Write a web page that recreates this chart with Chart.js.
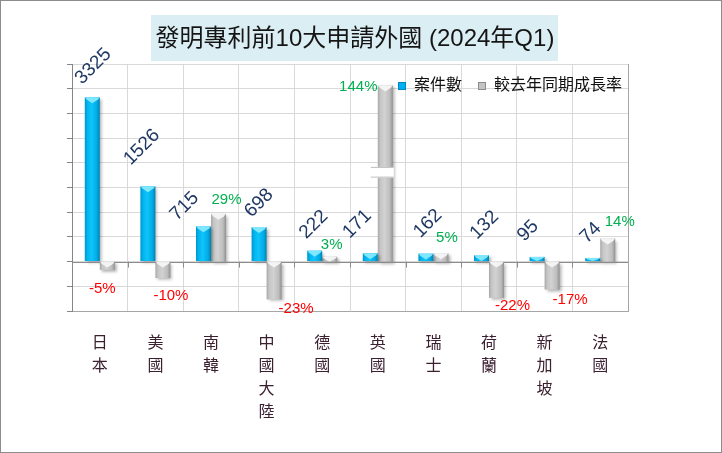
<!DOCTYPE html>
<html>
<head>
<meta charset="utf-8">
<script src="https://cdn.jsdelivr.net/npm/chart.js@4.4.1/dist/chart.umd.min.js"></script>
<style>
  html, body { margin: 0; padding: 0; background: #fff; }
</style>
</head>
<body>
<canvas id="myChart" width="722" height="453"></canvas>
<script>
"use strict";

// 發明專利前10大申請外國 (2024年Q1)
const countries = ["日本", "美國", "南韓", "中國大陸", "德國", "英國", "瑞士", "荷蘭", "新加坡", "法國"];
const cases = [3325, 1526, 715, 698, 222, 171, 162, 132, 95, 74];
const growth = [-5, -10, 29, -23, 3, 144, 5, -22, -17, 14];

// left axis (件數) and hidden right axis (成長率 %), zero lines aligned
const caseAxis = { min: -1000, max: 4000, step: 500 };
const growthAxis = { min: -30, max: 120 };
// 144% is drawn cut short with a break mark, like the original
const breakCap = 107;
const breakBand = [51, 57.5];

// label nudges (px) from the bar end, roughly as placed in the original
const caseLabelNudge = [[1, -31], [-6, -39], [-19, -20], [0, -24], [-1, -26], [-13, -29], [2, -30], [3, -30], [-9, -26], [-2, -25]];
const growthLabelNudge = [[-5, 19], [8, 18], [8, -14], [22, 9], [2, -12], [-27, 1], [6, -16], [16, 8], [18, 10], [12, -17]];

const growthShown = growth.map(v => Math.min(v, breakCap));
const groupPct = 0.54;
const latinCjk = '"Liberation Sans", "Noto Sans CJK TC", sans-serif';

function barFill(stops, side) {
  return function (c) {
    const chart = c.chart;
    const xs = chart.scales.x;
    if (c.type !== "data" || !xs || !xs.width) return stops[2][1];
    const center = xs.getPixelForValue(c.dataIndex);
    const w = xs.width / countries.length * groupPct / 2;
    const l = side < 0 ? center - w : center;
    const g = chart.ctx.createLinearGradient(l, 0, l + w, 0);
    stops.forEach(s => g.addColorStop(s[0], s[1]));
    return g;
  };
}

const blueFill = barFill([[0, "#0095CC"], [0.18, "#00B4EE"], [0.45, "#10C4FA"], [0.8, "#00ACE6"], [1, "#0080B0"]], -1);
const grayFill = barFill([[0, "#A8A8A8"], [0.18, "#C6C6C6"], [0.45, "#D2D2D2"], [0.8, "#BDBDBD"], [1, "#909090"]], 1);

const chartDecor = {
  id: "chartDecor",
  beforeDraw(chart) {
    const ctx = chart.ctx;
    ctx.save();
    ctx.fillStyle = "#fff";
    ctx.fillRect(0, 0, chart.width, chart.height);
    // title box
    ctx.fillStyle = "#DBEEF4";
    ctx.fillRect(151, 15, 407, 46);
    ctx.fillStyle = "#151515";
    ctx.font = "24px " + latinCjk;
    ctx.textAlign = "center";
    ctx.textBaseline = "middle";
    ctx.fillText("發明專利前10大申請外國 (2024年Q1)", 355, 39);
    ctx.restore();
  },
  beforeDatasetsDraw(chart) {
    const ctx = chart.ctx;
    ctx.save();
    ctx.shadowColor = "rgba(0,0,0,0.3)";
    ctx.shadowOffsetX = 2;
    ctx.shadowOffsetY = 2;
    ctx.shadowBlur = 3;
  },
  afterDatasetsDraw(chart) {
    const ctx = chart.ctx;
    ctx.restore();
    const area = chart.chartArea;
    const ys = chart.scales.y;
    const y1 = chart.scales.y1;
    const y0 = ys.getPixelForValue(0);
    const catW = (area.right - area.left) / countries.length;

    ctx.save();
    // zero axis with ticks
    ctx.strokeStyle = "#8C8C8C";
    ctx.lineWidth = 1;
    ctx.beginPath();
    ctx.moveTo(area.left, Math.round(y0) + 0.5);
    ctx.lineTo(area.right, Math.round(y0) + 0.5);
    for (let i = 0; i <= countries.length; i++) {
      const x = Math.round(area.left + i * catW) + 0.5;
      ctx.moveTo(x, y0);
      ctx.lineTo(x, y0 + 6);
    }
    ctx.stroke();
    // right border
    ctx.strokeStyle = "#A6A6A6";
    ctx.beginPath();
    ctx.moveTo(Math.round(area.right) + 0.5, area.top);
    ctx.lineTo(Math.round(area.right) + 0.5, area.bottom);
    ctx.stroke();

    // bevel caps
    [0, 1].forEach(d => {
      const meta = chart.getDatasetMeta(d);
      ctx.fillStyle = d === 0 ? "rgba(140,235,255,0.9)" : "rgba(245,245,245,0.95)";
      meta.data.forEach(bar => {
        const l = bar.x - bar.width / 2, r = bar.x + bar.width / 2;
        const t = Math.min(bar.y, bar.base);
        const h = Math.min(6, Math.abs(bar.base - bar.y));
        ctx.beginPath();
        ctx.moveTo(l, t);
        ctx.lineTo(r, t);
        ctx.lineTo(r - 2, t + h * 0.4);
        ctx.lineTo(bar.x, t + h);
        ctx.lineTo(l + 2, t + h * 0.4);
        ctx.closePath();
        ctx.fill();
      });
    });

    // axis break on the capped bar
    const metaG = chart.getDatasetMeta(1);
    growth.forEach((v, i) => {
      if (v <= breakCap) return;
      const bar = metaG.data[i];
      const top = y1.getPixelForValue(breakBand[1]);
      const bot = y1.getPixelForValue(breakBand[0]);
      const l = bar.x - bar.width / 2 - 7;
      ctx.fillStyle = "#fff";
      ctx.fillRect(l, top, bar.width + 8, bot - top);
      ctx.strokeStyle = "#BFBFBF";
      ctx.beginPath();
      ctx.moveTo(l, top + 0.5);
      ctx.lineTo(l + bar.width + 8, top + 0.5);
      ctx.moveTo(l, bot - 0.5);
      ctx.lineTo(l + bar.width + 8, bot - 0.5);
      ctx.stroke();
    });

    // case count labels, rotated
    const metaC = chart.getDatasetMeta(0);
    ctx.font = "19px " + latinCjk;
    ctx.fillStyle = "#1F3864";
    ctx.textAlign = "center";
    ctx.textBaseline = "middle";
    metaC.data.forEach((bar, i) => {
      const n = caseLabelNudge[i];
      ctx.save();
      ctx.translate(bar.x + n[0], Math.min(bar.y, bar.base) + n[1]);
      ctx.rotate(-Math.PI / 4);
      ctx.fillText(String(cases[i]), 0, 0);
      ctx.restore();
    });

    // growth labels
    ctx.font = "15px " + latinCjk;
    metaG.data.forEach((bar, i) => {
      const n = growthLabelNudge[i];
      ctx.fillStyle = growth[i] < 0 ? "#FF0000" : "#00B050";
      ctx.fillText(growth[i] + "%", bar.x + n[0], bar.y + n[1]);
    });

    // legend
    const sw = [[398, "#00B0F0", "#0088C0"], [478, "#C4C4C4", "#8C8C8C"]];
    ctx.font = "16px " + latinCjk;
    ctx.textAlign = "left";
    chart.data.datasets.forEach((ds, d) => {
      const s = sw[d];
      ctx.fillStyle = s[2];
      ctx.fillRect(s[0], 82, 8, 8);
      ctx.fillStyle = s[1];
      ctx.fillRect(s[0] + 1, 83, 6, 6);
      ctx.fillStyle = "#111";
      ctx.fillText(ds.label, s[0] + 16, 86);
    });

    // outer frame
    ctx.strokeStyle = "#8C8C8C";
    ctx.strokeRect(0.5, 0.5, chart.width - 1, chart.height - 1);
    ctx.restore();
  }
};

const ctx = document.getElementById("myChart");

new Chart(ctx, {
  type: "bar",
  data: {
    labels: countries.map(c => Array.from(c)),
    datasets: [
      {
        label: "案件數",
        data: cases,
        yAxisID: "y",
        backgroundColor: blueFill,
        borderWidth: 0,
      },
      {
        label: "較去年同期成長率",
        data: growthShown,
        yAxisID: "y1",
        backgroundColor: grayFill,
        borderWidth: 0,
      },
    ],
  },
  options: {
    responsive: false,
    animation: false,
    devicePixelRatio: 1,
    categoryPercentage: groupPct,
    barPercentage: 1,
    layout: { padding: { top: 64, right: 94, left: 0, bottom: 0 } },
    plugins: {
      legend: { display: false },
      title: { display: false },
      tooltip: { enabled: false },
    },
    scales: {
      x: {
        grid: { color: "#D9D9D9", drawTicks: false, offset: true },
        border: { display: true, color: "#A6A6A6" },
        ticks: {
          color: "#3B2030",
          font: { family: "Noto Sans CJK TC", size: 16, lineHeight: 1.45 },
          padding: 19,
          maxRotation: 0,
          autoSkip: false,
        },
        afterFit: s => { s.height = 142; },
      },
      y: {
        min: caseAxis.min,
        max: caseAxis.max,
        ticks: { stepSize: caseAxis.step, display: false },
        grid: { color: "#D9D9D9", tickColor: "#868686", tickLength: 5 },
        border: { display: true, color: "#868686" },
        afterFit: s => { s.width = 72; },
      },
      y1: {
        position: "right",
        display: false,
        min: growthAxis.min,
        max: growthAxis.max,
        grid: { display: false },
      },
    },
  },
  plugins: [chartDecor],
});
</script>
</body>
</html>
